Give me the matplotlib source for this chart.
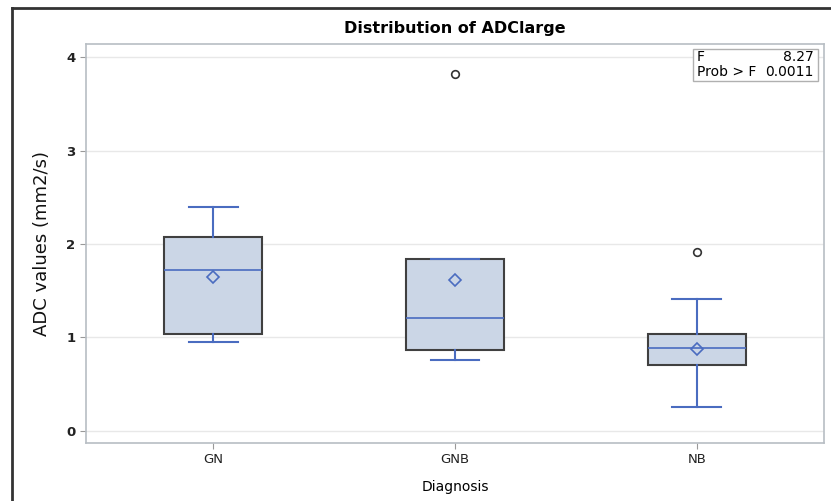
import matplotlib.pyplot as plt
from matplotlib.patches import Rectangle

# Values
groups = ['GN', 'GNB', 'NB']
whislo = [0.95, 0.76, 0.25]
q1 = [1.04, 0.87, 0.70]
med = [1.72, 1.21, 0.89]
q3 = [2.07, 1.84, 1.04]
whishi = [2.40, 1.84, 1.41]
means = [1.65, 1.61, 0.88]
outliers = [[], [3.82], [1.91]]

blue = '#4a6cc0'
fig = plt.figure(figsize=(8.31, 5.01), dpi=100)
W, H = 831, 501
ax = fig.add_axes([86 / W, 1 - 443 / H, (824 - 86) / W, (443 - 44) / H])

stats = []
for i, g in enumerate(groups):
    stats.append({'label': g, 'whislo': whislo[i], 'q1': q1[i], 'med': med[i],
                  'q3': q3[i], 'whishi': whishi[i], 'mean': means[i], 'fliers': outliers[i]})

ax.bxp(stats, positions=range(len(groups)), widths=0.405, patch_artist=True, showmeans=True,
       boxprops=dict(facecolor='#cbd6e6', edgecolor='#404040', linewidth=1.5),
       medianprops=dict(color=blue, linewidth=1.2),
       whiskerprops=dict(color=blue, linewidth=1.5),
       capprops=dict(color=blue, linewidth=1.5),
       meanprops=dict(marker='D', markerfacecolor='none', markeredgecolor=blue,
                      markersize=6.5, markeredgewidth=1.2),
       flierprops=dict(marker='o', markerfacecolor='none', markeredgecolor='#333333',
                       markersize=5.5, markeredgewidth=1.2))

ax.set_xlim(-0.525, 2.525)
ax.set_ylim(-0.13, 4.14)
ax.set_yticks([0, 1, 2, 3, 4])
ax.grid(axis='y', color='#e8e8e8', linewidth=1)
ax.set_axisbelow(True)
for s in ax.spines.values():
    s.set_color('#b8bec4')
    s.set_linewidth(1.2)
ax.tick_params(colors='#999999', labelcolor='#222222', labelsize=9.5, length=4)
for lab in ax.get_yticklabels():
    lab.set_fontweight('bold')
ax.set_xticks(range(len(groups)))
ax.set_xticklabels(groups)

ax.set_ylabel('ADC values (mm2/s)', fontsize=13, color='#111111', labelpad=11)
ax.set_xlabel('Diagnosis', fontsize=10, labelpad=10)
ax.set_title('Distribution of ADClarge', fontsize=11.5, fontweight='bold', pad=8)

# stats inset
bx0, by0, bx1, by1 = 693, 49, 818, 81
fig.patches.append(Rectangle((bx0 / W, 1 - by1 / H), (bx1 - bx0) / W, (by1 - by0) / H,
                             transform=fig.transFigure, fill=True, facecolor='white',
                             edgecolor='#b0b0b0', linewidth=1))
fig.text(697 / W, 1 - 57 / H, 'F', fontsize=10, va='center', ha='left')
fig.text(814 / W, 1 - 57 / H, '8.27', fontsize=10, va='center', ha='right')
fig.text(697 / W, 1 - 72 / H, 'Prob > F', fontsize=10, va='center', ha='left')
fig.text(814 / W, 1 - 72 / H, '0.0011', fontsize=10, va='center', ha='right')

# outer frame
fig.add_artist(plt.Line2D([12 / W, 12 / W], [0, 1 - 8 / H], transform=fig.transFigure,
                          color='#333333', linewidth=2))
fig.add_artist(plt.Line2D([12 / W, 1], [1 - 8 / H, 1 - 8 / H], transform=fig.transFigure,
                          color='#333333', linewidth=2))

fig.savefig('out.png', dpi=100)
